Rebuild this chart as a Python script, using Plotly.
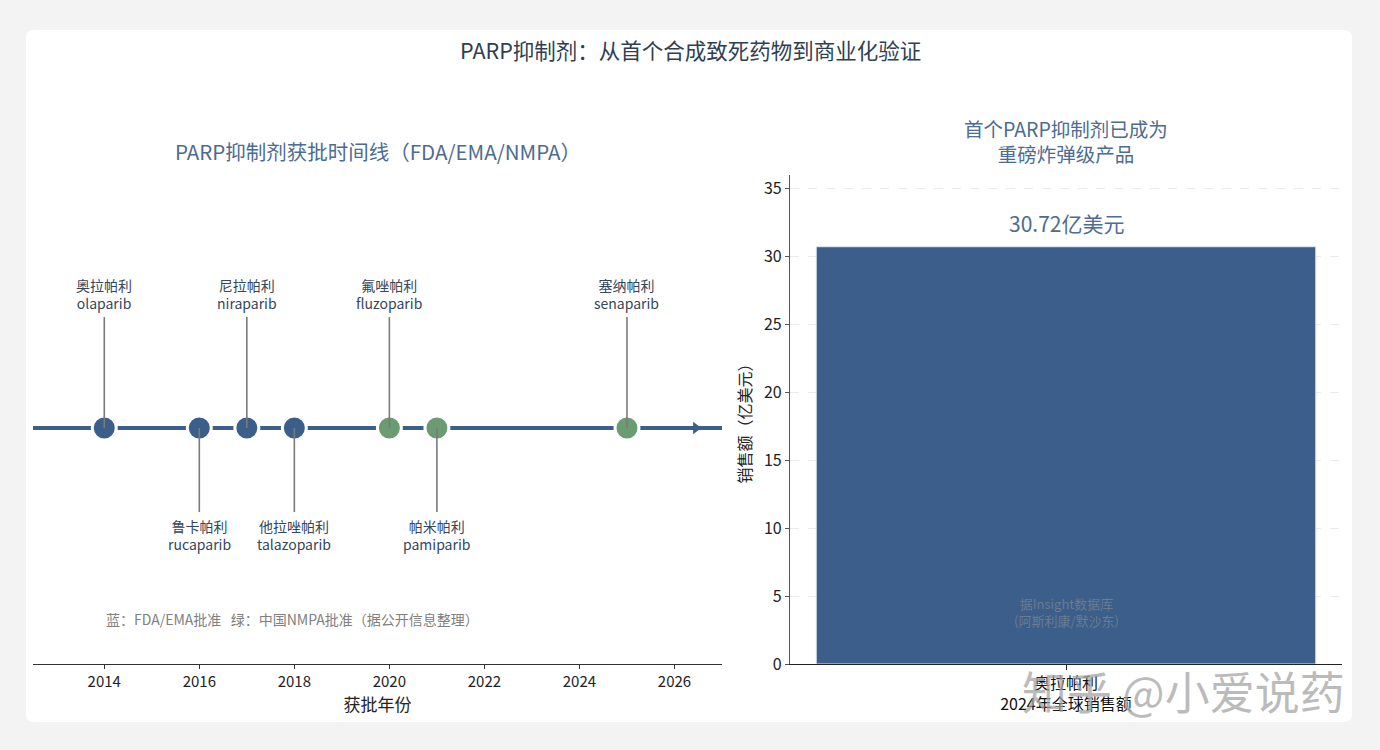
import plotly.graph_objects as go

# ---- data ----
drug_cn = ["奥拉帕利", "鲁卡帕利", "尼拉帕利", "他拉唑帕利", "氟唑帕利", "帕米帕利", "塞纳帕利"]
drug_en = ["olaparib", "rucaparib", "niraparib", "talazoparib", "fluzoparib", "pamiparib", "senaparib"]
approval_year = [2014, 2016, 2017, 2018, 2020, 2021, 2025]
regulator = ["FDA/EMA", "FDA/EMA", "FDA/EMA", "FDA/EMA", "NMPA", "NMPA", "NMPA"]
label_side = [1, -1, 1, -1, 1, -1, 1]

sales_category = ["奥拉帕利<br>2024年全球销售额"]
sales_value = [30.72]
sales_label = ["30.72亿美元"]

year_ticks = [2014, 2016, 2018, 2020, 2022, 2024, 2026]
sales_ticks = [0, 5, 10, 15, 20, 25, 30, 35]

# ---- styles ----
BLUE = "#3b5e8a"
GREEN = "#6b9b71"
TITLE_C = "#4c6c91"
TEXT_C = "#34465a"
FONT = "Noto Sans CJK SC"
W, H = 1380, 750

def px_x(p):
    return p / W

def px_y(p):
    return 1 - p / H

UP_H, DN_H = 0.47, -0.356
color_map = {"FDA/EMA": BLUE, "NMPA": GREEN}

fig = go.Figure()

# timeline axis line
fig.add_trace(go.Scatter(x=[2012.5, 2027.0], y=[0, 0], mode="lines",
                         line=dict(color=BLUE, width=4), xaxis="x", yaxis="y",
                         hoverinfo="skip", showlegend=False))
fig.add_trace(go.Scatter(x=[2026.45], y=[0], mode="markers",
                         marker=dict(symbol="triangle-right", size=11, color=BLUE),
                         xaxis="x", yaxis="y", hoverinfo="skip", showlegend=False))

# markers
fig.add_trace(go.Scatter(
    x=approval_year, y=[0] * len(approval_year), mode="markers",
    marker=dict(size=24, color=[color_map[r] for r in regulator],
                line=dict(color="white", width=3)),
    xaxis="x", yaxis="y", showlegend=False,
    text=[f"{c} {e}" for c, e in zip(drug_cn, drug_en)], hoverinfo="text+x"))

# stems
for yr, side in zip(approval_year, label_side):
    h = UP_H if side > 0 else DN_H
    fig.add_trace(go.Scatter(x=[yr, yr], y=[0, h], mode="lines",
                             line=dict(color="#7a7a7a", width=1.6),
                             xaxis="x", yaxis="y", hoverinfo="skip", showlegend=False))

annotations = []
for yr, side, cn, en in zip(approval_year, label_side, drug_cn, drug_en):
    h = UP_H if side > 0 else DN_H
    annotations.append(dict(
        x=yr, y=h, xref="x", yref="y", text=f"{cn}<br>{en}", showarrow=False,
        yanchor="bottom" if side > 0 else "top", yshift=2 if side > 0 else -2,
        font=dict(family=FONT, size=14, color=TEXT_C), align="center"))

annotations.append(dict(
    x=2014, y=-0.81, xref="x", yref="y", xanchor="left",
    text="蓝：FDA/EMA批准   绿：中国NMPA批准（据公开信息整理）", showarrow=False,
    font=dict(family=FONT, size=14, color="#808080")))

# bar chart
fig.add_trace(go.Bar(x=[0], y=sales_value, width=0.905,
                     marker=dict(color=BLUE, line=dict(color="#dfe6ee", width=1)),
                     xaxis="x2", yaxis="y2", showlegend=False,
                     hovertext=sales_category, hoverinfo="text+y"))

annotations.append(dict(
    x=0, y=sales_value[0], xref="x2", yref="y2", text=sales_label[0],
    showarrow=False, yanchor="bottom", yshift=7,
    font=dict(family=FONT, size=21, color=TITLE_C)))
annotations.append(dict(
    x=0, y=3.85, xref="x2", yref="y2", text="据Insight数据库<br>(阿斯利康/默沙东)",
    showarrow=False, font=dict(family=FONT, size=13, color="#6a7c90")))

# titles
annotations.append(dict(
    x=0.5, y=px_y(49), xref="paper", yref="paper", xanchor="center", yanchor="middle",
    text="PARP抑制剂：从首个合成致死药物到商业化验证", showarrow=False,
    font=dict(family=FONT, size=21.5, color="#2f3f52")))
annotations.append(dict(
    x=px_x(378), y=px_y(151), xref="paper", yref="paper", xanchor="center", yanchor="middle",
    text="PARP抑制剂获批时间线（FDA/EMA/NMPA）", showarrow=False,
    font=dict(family=FONT, size=20.5, color=TITLE_C)))
annotations.append(dict(
    x=px_x(1066), y=px_y(141), xref="paper", yref="paper", xanchor="center", yanchor="middle",
    text="首个PARP抑制剂已成为<br>重磅炸弹级产品", showarrow=False,
    font=dict(family=FONT, size=19.5, color=TITLE_C)))

# watermark
annotations.append(dict(
    x=px_x(1347), y=px_y(690), xref="paper", yref="paper", xanchor="right", yanchor="middle",
    text="知乎 @小爱说药", showarrow=False,
    font=dict(family=FONT, size=45, color="rgba(165,165,165,0.75)")))

# card background (rounded rectangle)
x0, x1 = px_x(26), px_x(1352)
y0, y1 = px_y(722), px_y(30)
rx, ry = 8 / W, 8 / H
card_path = (f"M {x0+rx},{y1} L {x1-rx},{y1} Q {x1},{y1} {x1},{y1-ry} "
             f"L {x1},{y0+ry} Q {x1},{y0} {x1-rx},{y0} L {x0+rx},{y0} "
             f"Q {x0},{y0} {x0},{y0+ry} L {x0},{y1-ry} Q {x0},{y1} {x0+rx},{y1} Z")

dom_y = [px_y(664), px_y(175)]

fig.update_layout(
    width=W, height=H,
    margin=dict(l=0, r=0, t=0, b=0, autoexpand=False),
    paper_bgcolor="#f3f3f3", plot_bgcolor="rgba(0,0,0,0)",
    font=dict(family=FONT, color="#222"),
    shapes=[dict(type="path", path=card_path, xref="paper", yref="paper",
                 fillcolor="white", line=dict(width=0), layer="below")],
    annotations=annotations,
    xaxis=dict(domain=[px_x(33), px_x(722)], range=[2012.5, 2027.0], automargin=False,
               tickvals=year_ticks, ticks="outside", ticklen=4, tickcolor="#333",
               showline=True, linecolor="#333", linewidth=1.2, showgrid=False,
               zeroline=False, tickfont=dict(size=15, color="#222"),
               title=dict(text="获批年份", font=dict(size=17, color="#222"), standoff=2),
               anchor="y"),
    yaxis=dict(domain=dom_y, range=[-1, 1.072], visible=False, anchor="x", automargin=False),
    xaxis2=dict(domain=[px_x(790), px_x(1342)], range=[-0.5, 0.5], automargin=False,
                tickvals=[0], ticktext=sales_category, ticks="outside", ticklen=5,
                tickcolor="#222", showline=True, linecolor="#222", linewidth=1.2,
                showgrid=False, zeroline=False, tickfont=dict(size=16, color="#111"),
                anchor="y2"),
    yaxis2=dict(domain=dom_y, range=[0, 36], tickvals=sales_ticks, ticks="outside",
                automargin=False,
                ticklen=4, tickcolor="#555", showline=True, linecolor="#555",
                linewidth=1.2, showgrid=True, gridcolor="#e8eaee", griddash="dash",
                zeroline=False, tickfont=dict(size=16, color="#222"),
                title=dict(text="销售额（亿美元）", font=dict(size=16, color="#222"),
                           standoff=8),
                anchor="x2"),
)

fig.write_html("out.html", config={"displayModeBar": False},
               post_script="document.body.style.margin='0';")
